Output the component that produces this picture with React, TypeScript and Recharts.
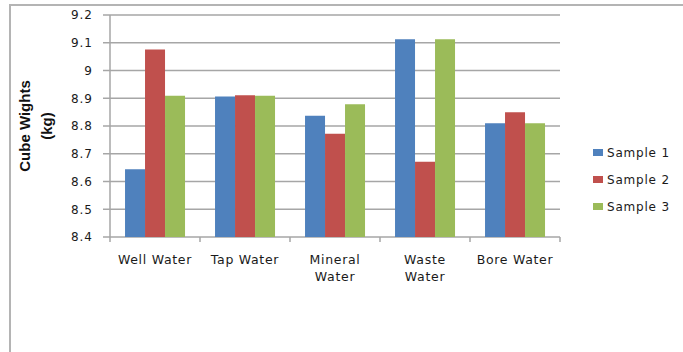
import { BarChart, Bar, XAxis, YAxis, CartesianGrid, Legend, Label } from "recharts";

const categories = ["Well Water", "Tap Water", "Mineral\nWater", "Waste\nWater", "Bore Water"];
const sample1 = [8.644, 8.906, 8.837, 9.113, 8.81];
const sample2 = [9.076, 8.911, 8.772, 8.671, 8.85];
const sample3 = [8.909, 8.909, 8.878, 9.113, 8.81];
const yTicks = [8.4, 8.5, 8.6, 8.7, 8.8, 8.9, 9, 9.1, 9.2];

const SERIES = [
  { key: "s1", name: "Sample 1", color: "#4f81bd" },
  { key: "s2", name: "Sample 2", color: "#c0504d" },
  { key: "s3", name: "Sample 3", color: "#9bbb59" },
];

const data = categories.map((name, i) => ({
  name,
  s1: sample1[i],
  s2: sample2[i],
  s3: sample3[i],
}));

const GRID = "#a6a6a6";
const FONT = "'DejaVu Sans', Verdana, sans-serif";
const PLOT_W = 450;

// category ticks sit on the boundaries between groups, labels in the middle
function CategoryTick(props: any) {
  const { x, y, payload, index } = props;
  const half = PLOT_W / categories.length / 2;
  const lines = String(payload.value).split("\n");
  return (
    <g>
      <line x1={x - half} x2={x - half} y1={y} y2={y + 5} stroke={GRID} strokeWidth={1.5} />
      {index === categories.length - 1 && (
        <line x1={x + half} x2={x + half} y1={y} y2={y + 5} stroke={GRID} strokeWidth={1.5} />
      )}
      <text
        x={x}
        y={y + 27}
        textAnchor="middle"
        fill="#1a1a1a"
        style={{ fontFamily: FONT, fontSize: 12.5, letterSpacing: 0.7 }}
      >
        {lines.map((l, i) => (
          <tspan key={i} x={x} dy={i === 0 ? 0 : 17}>
            {l}
          </tspan>
        ))}
      </text>
    </g>
  );
}

function AxisTitle(props: any) {
  const { viewBox } = props;
  const cy = viewBox.y + viewBox.height / 2;
  const style = {
    fontFamily: "'Liberation Sans Narrow', 'Liberation Sans', Arial, sans-serif",
    fontSize: 15,
    fontWeight: 700,
  };
  const x1 = viewBox.x + 30;
  const x2 = viewBox.x + 52;
  return (
    <g>
      <text x={x1} y={cy} transform={`rotate(-90 ${x1} ${cy})`} textAnchor="middle" fill="#111" style={style}>
        Cube Wights
      </text>
      <text x={x2} y={cy} transform={`rotate(-90 ${x2} ${cy})`} textAnchor="middle" fill="#111" style={style}>
        (kg)
      </text>
    </g>
  );
}

function LegendBox() {
  return (
    <div style={{ fontFamily: FONT, fontSize: 12, letterSpacing: 0.8, color: "#1a1a1a" }}>
      {SERIES.map((s) => (
        <div key={s.key} style={{ display: "flex", alignItems: "center", height: 27 }}>
          <span style={{ width: 10, height: 7, background: s.color, marginRight: 4 }} />
          {s.name}
        </div>
      ))}
    </div>
  );
}

export default function App() {
  return (
    <div
      style={{
        position: "absolute",
        left: 0,
        top: 0,
        width: 683,
        height: 352,
        background: "#fff",
        overflow: "hidden",
      }}
    >
      <div
        style={{
          position: "absolute",
          left: 9,
          top: 4,
          right: -10,
          bottom: -10,
          borderTop: "2px solid #b4b4b4",
          borderLeft: "2px solid #b4b4b4",
        }}
      />
      <BarChart
        width={683}
        height={352}
        data={data}
        margin={{ top: 15, right: 33, bottom: 85, left: 0 }}
        barCategoryGap="16.7%"
        barGap={0}
      >
        <CartesianGrid vertical={false} stroke={GRID} strokeWidth={1.5} />
        <XAxis
          dataKey="name"
          axisLine={false}
          tickLine={false}
          tickSize={0}
          tickMargin={0}
          interval={0}
          tick={<CategoryTick />}
        />
        <YAxis
          width={110}
          domain={[8.4, 9.2]}
          ticks={yTicks}
          interval={0}
          allowDataOverflow
          axisLine={{ stroke: GRID, strokeWidth: 1.5 }}
          tickLine={{ stroke: GRID, strokeWidth: 1.5 }}
          tickSize={7}
          tickMargin={10}
          tick={{ fill: "#1a1a1a", fontSize: 12, fontFamily: FONT, letterSpacing: 1 }}
        >
          <Label content={<AxisTitle />} />
        </YAxis>
        <Legend
          layout="vertical"
          align="right"
          verticalAlign="middle"
          content={<LegendBox />}
          wrapperStyle={{ left: 593, top: 139, width: 90 }}
        />
        {SERIES.map((s) => (
          <Bar key={s.key} dataKey={s.key} name={s.name} fill={s.color} isAnimationActive={false} />
        ))}
      </BarChart>
    </div>
  );
}
